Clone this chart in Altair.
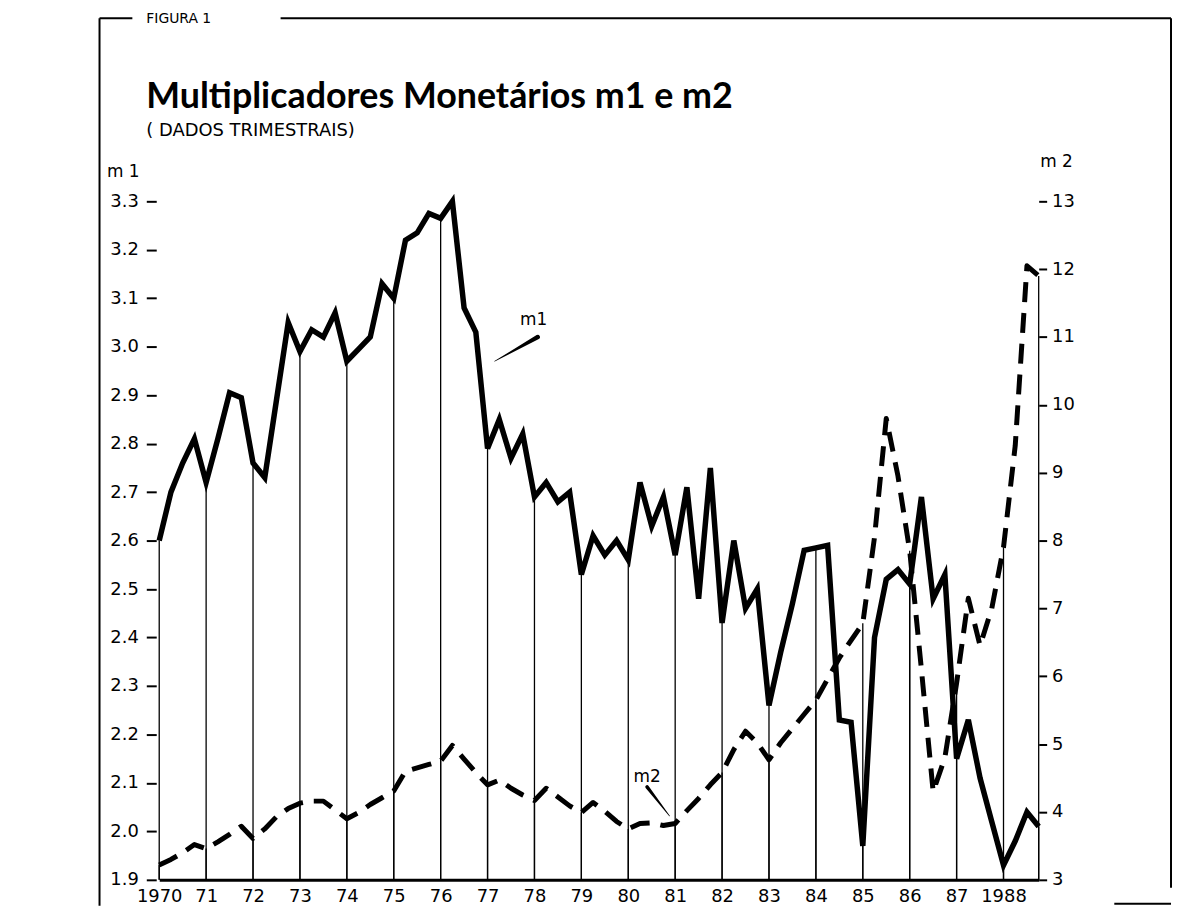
import json
import numpy as np
import pandas as pd
import altair as alt

# ---------------- data ----------------
START_YEAR = 1970
# quarterly money multiplier m1, 1970.I - 1988.IV
m1 = [
    2.60, 2.70, 2.76, 2.81,
    2.72, 2.81, 2.905, 2.895,
    2.76, 2.73, 2.89, 3.05,
    2.99, 3.035, 3.02, 3.07,
    2.97, 2.995, 3.02, 3.13,
    3.10, 3.22, 3.235, 3.275,
    3.265, 3.30, 3.08, 3.03,
    2.79, 2.85, 2.77, 2.82,
    2.69, 2.72, 2.68, 2.70,
    2.53, 2.61, 2.57, 2.60,
    2.56, 2.72, 2.63, 2.69,
    2.57, 2.71, 2.48, 2.75,
    2.43, 2.60, 2.46, 2.50,
    2.26, 2.37, 2.47, 2.58,
    2.585, 2.59, 2.23, 2.225,
    1.97, 2.40, 2.52, 2.54,
    2.51, 2.69, 2.48, 2.53,
    2.15, 2.23, 2.11, 2.02,
    1.93, 1.98, 2.04, 2.01,
]
# quarterly money multiplier m2, 1970.I - 1988.IV
m2 = [
    3.22, 3.30, 3.40, 3.52,
    3.46, 3.56, 3.67, 3.79,
    3.61, 3.75, 3.93, 4.05,
    4.13, 4.16, 4.16, 4.03,
    3.90, 3.99, 4.11, 4.21,
    4.31, 4.60, 4.65, 4.70,
    4.75, 4.98, 4.78, 4.58,
    4.40, 4.47, 4.35, 4.25,
    4.17, 4.35, 4.22, 4.09,
    3.99, 4.14, 4.01, 3.86,
    3.75, 3.83, 3.84, 3.80,
    3.83, 4.02, 4.20, 4.40,
    4.58, 4.92, 5.19, 5.02,
    4.77, 5.02, 5.23, 5.44,
    5.65, 5.96, 6.27, 6.53,
    6.78, 8.05, 9.80, 8.95,
    7.85, 6.10, 4.30, 4.80,
    5.90, 7.15, 6.45, 7.00,
    7.90, 9.40, 12.05, 11.90,
]
year_labels = ["1970", "71", "72", "73", "74", "75", "76", "77", "78", "79",
               "80", "81", "82", "83", "84", "85", "86", "87", "1988"]
m1_ticks = [1.9, 2.0, 2.1, 2.2, 2.3, 2.4, 2.5, 2.6, 2.7, 2.8, 2.9, 3.0, 3.1, 3.2, 3.3]
m2_ticks = [3, 4, 5, 6, 7, 8, 9, 10, 11, 12, 13]

# annotation pointers (in data units)
m1_ptr_t = [1977.15, 1978.07]
m1_ptr_v = [2.97, 3.02]
m1_ptr_w = [0.6, 4.5]
m1_lab = ("m1", 1977.98, 3.055)
m2_ptr_t = [1980.40, 1980.88]
m2_ptr_v = [4.37, 3.94]
m2_ptr_w = [3.5, 0.6]
m2_lab = ("m2", 1980.40, 4.52)

title_text = "Multiplicadores Monetários m1 e m2"
subtitle_text = "( DADOS TRIMESTRAIS)"
figura_text = "FIGURA  1"

# ---------------- frames ----------------
n = len(m1)
t = START_YEAR + np.arange(n) * 0.25
df = pd.DataFrame({"t": t, "m1": m1, "m2": m2})
rules_df = df[(np.arange(n) % 4 == 0) | (np.arange(n) == n - 1)]
p1 = pd.DataFrame({"t": m1_ptr_t, "m1": m1_ptr_v, "w": m1_ptr_w})
p2 = pd.DataFrame({"t": m2_ptr_t, "m2": m2_ptr_v, "w": m2_ptr_w})
l1 = pd.DataFrame({"t": [m1_lab[1]], "m1": [m1_lab[2]], "lab": [m1_lab[0]]})
l2 = pd.DataFrame({"t": [m2_lab[1]], "m2": [m2_lab[2]], "lab": [m2_lab[0]]})

W, H = 884, 682
FONT = "DejaVu Sans"

xaxis = alt.Axis(
    values=list(range(1970, 1989)),
    labelExpr=json.dumps(year_labels) + "[round(datum.value) - 1970]",
    title=None, ticks=False, labelPadding=8, domainColor="black", domainWidth=3,
    grid=False, labelFlush=False, labelOverlap=False, labelFont=FONT,
    labelFontSize=18, labelColor="black",
)
X = alt.X("t:Q", scale=alt.Scale(domain=[1970, 1988.75], nice=False, zero=False), axis=xaxis)

yaxis1 = alt.Axis(
    values=m1_ticks, format=".1f", orient="left", title="m 1", titleAngle=0,
    titleAlign="left", titleBaseline="middle", titleX=-50, titleY=-30,
    titleFont=FONT, titleFontSize=17, titleFontWeight="normal", titleColor="black",
    labelFont=FONT, labelFontSize=18, labelColor="black", labelPadding=8,
    tickSize=10, tickWidth=2, tickColor="black", domain=False, grid=False,
    offset=3, labelFlush=False, labelOverlap=False,
)
yaxis2 = alt.Axis(
    values=m2_ticks, format="d", orient="right", title="m 2", titleAngle=0,
    titleAlign="left", titleBaseline="middle", titleX=1, titleY=-40,
    titleFont=FONT, titleFontSize=17, titleFontWeight="normal", titleColor="black",
    labelFont=FONT, labelFontSize=18, labelColor="black", labelPadding=5,
    tickSize=8, tickWidth=2, tickColor="black", domain=False, grid=False,
    labelFlush=False, labelOverlap=False,
)
Y1 = alt.Y("m1:Q", scale=alt.Scale(domain=[1.9, 3.3], nice=False, zero=False), axis=yaxis1)
Y2 = alt.Y("m2:Q", scale=alt.Scale(domain=[3, 13], nice=False, zero=False), axis=yaxis2)

# m1 group
r1 = alt.Chart(rules_df).mark_rule(color="black", strokeWidth=1.3).encode(x=X, y=Y1, y2=alt.datum(1.9))
line1 = alt.Chart(df).mark_line(color="black", strokeWidth=5.5, strokeJoin="miter",
                                strokeMiterLimit=4).encode(x=X, y=Y1)
ptr1 = alt.Chart(p1).mark_trail(color="black").encode(
    x=X, y=Y1, size=alt.Size("w:Q", scale=None, legend=None))
txt1 = alt.Chart(l1).mark_text(font=FONT, fontSize=17, color="black").encode(x=X, y=Y1, text="lab:N")
g1 = alt.layer(r1, line1, ptr1, txt1)

# m2 group
r2 = alt.Chart(rules_df).mark_rule(color="black", strokeWidth=1.3).encode(x=X, y=Y2, y2=alt.datum(3))
line2 = alt.Chart(df).mark_line(color="black", strokeWidth=5, strokeDash=[20, 11],
                                strokeJoin="round").encode(x=X, y=Y2)
ptr2 = alt.Chart(p2).mark_trail(color="black").encode(
    x=X, y=Y2, size=alt.Size("w:Q", scale=None, legend=None))
txt2 = alt.Chart(l2).mark_text(font=FONT, fontSize=17, color="black").encode(x=X, y=Y2, text="lab:N")
g2 = alt.layer(r2, line2, ptr2, txt2)

# titles and frame (decoration, in pixels relative to the plot area)
def label(text, x, y, size, weight="normal", font=FONT, baseline="alphabetic"):
    return alt.Chart(pd.DataFrame({"s": [text]})).mark_text(
        font=font, fontSize=size, fontWeight=weight, align="left", baseline=baseline,
        color="black").encode(text="s:N", x=alt.value(x), y=alt.value(y))

def hline(x1, x2, y):
    return alt.Chart(pd.DataFrame({"a": [0]})).mark_rule(color="black", strokeWidth=2).encode(
        x=alt.value(x1), x2=alt.value(x2), y=alt.value(y))

def vline(x, y1, y2):
    return alt.Chart(pd.DataFrame({"a": [0]})).mark_rule(color="black", strokeWidth=2).encode(
        x=alt.value(x), y=alt.value(y1), y2=alt.value(y2))

deco = [
    label(figura_text, -13, -183, 14, baseline="middle"),
    label(title_text, -13, -94, 36, weight="bold", font="Lato"),
    label(subtitle_text, -13, -66, 18),
    hline(-60, -27, -184),
    hline(122, 1017, -184),
    vline(-60, -184, 708),
    vline(1017, -184, 690),
    hline(960, 1017, 706),
]

chart = alt.layer(g1, g2, *deco).resolve_scale(y="independent").properties(
    width=W, height=H,
    padding={"left": 152, "top": 192, "right": 134, "bottom": 26},
    autosize=alt.AutoSizeParams(type="none"),
    background="white",
).configure_view(stroke=None)

chart.save("out.html", embed_options={"renderer": "svg", "actions": False})
